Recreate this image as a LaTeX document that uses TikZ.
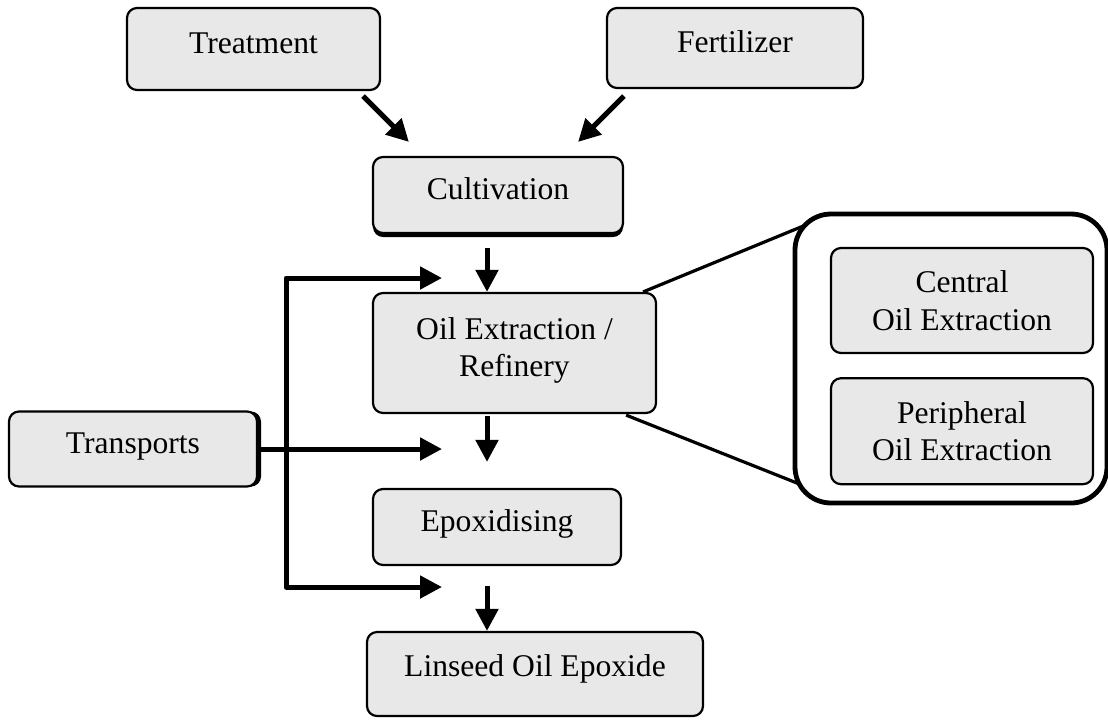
\documentclass[tikz,border=0pt]{standalone}
\usepackage{fontspec}
\setmainfont{Liberation Serif}
\usetikzlibrary{arrows.meta, positioning, calc, shadows}
\definecolor{lcaGrey}{HTML}{E8E8E8}
\tikzset{
  lcaBox/.style={rectangle, rounded corners=5pt, draw=black, line width=1.1pt,
    fill=lcaGrey, inner sep=0pt, align=center,
    font=\fontsize{15.8}{18.8}\selectfont},
  lcaStep/.style={lcaBox, text depth=6pt},
  lcaShadowDown/.style={drop shadow={shadow xshift=0pt, shadow yshift=-2pt,
    opacity=1, fill=black}},
  lcaShadowRight/.style={drop shadow={shadow xshift=2pt, shadow yshift=0pt,
    opacity=1, fill=black}},
  lcaArrow/.style={-{Triangle[length=11pt, width=11pt]}, line width=2.5pt, black},
  lcaZoom/.style={line width=1.6pt, black},
  lcaFrame/.style={rectangle, rounded corners=18pt, draw=black, line width=2.4pt,
    fill=white, inner sep=0pt}
}

\begin{document}
\begin{tikzpicture}[x=0.5pt, y=-0.5pt, line join=round]
  \useasboundingbox (0,0) rectangle (1108,720);

  % inputs
  \node[lcaStep, minimum width=126.5pt, minimum height=41pt] (treat) at (253.5,49) {Treatment};
  \node[lcaStep, minimum width=128pt, minimum height=40pt] (fert) at (735,48) {Fertilizer};

  % main chain
  \node[lcaStep, lcaShadowDown, minimum width=125pt, minimum height=38pt] (cult) at (498,195) {Cultivation};
  \node[lcaStep, minimum width=141.5pt, minimum height=60pt] (oil) at (514.5,353) {Oil Extraction /\\Refinery};
  \node[lcaStep, minimum width=124pt, minimum height=38pt] (epox) at (497,527) {Epoxidising};
  \node[lcaStep, text depth=8pt, minimum width=168pt, minimum height=42pt] (lins) at (535,674) {Linseed Oil Epoxide};
  \node[lcaStep, lcaShadowRight, minimum width=124pt, minimum height=37.5pt] (trans) at (133,449) {Transports};

  % detail of the extraction step
  \draw[lcaZoom] ([shift={(-14,0)}]oil.north east) -- ([shift={(18,8)}]795,214);
  \draw[lcaZoom] ([shift={(-31,1)}]oil.south east) -- ([shift={(12,-16)}]795,503);
  \node[lcaFrame, minimum width=156pt, minimum height=144.5pt] (frame) at (951,358.5) {};
  \node[lcaBox, minimum width=131pt, minimum height=52.5pt] (central) at (962,300.5) {Central\\Oil Extraction};
  \node[lcaBox, minimum width=131pt, minimum height=53pt, below=11.5pt of central] (periph) {Peripheral\\Oil Extraction};

  % arrows
  \coordinate (colX) at (487,0);
  \coordinate (hub) at (286,449);
  \coordinate (inTop) at (442,278);
  \coordinate (inMid) at (442,449);
  \coordinate (inBot) at (442,587);

  \draw[lcaArrow] ([shift={(-18,5)}]treat.south east) -- ([shift={(37,-14)}]cult.north west);
  \draw[lcaArrow] ([shift={(18,7)}]fert.south west) -- ([shift={(-46,-14)}]cult.north east);
  \draw[lcaArrow, shorten <=7pt] (cult.south -| colX) -- (oil.north -| colX);
  \draw[lcaArrow, shorten <=1pt, shorten >=13pt] (oil.south -| colX) -- (epox.north -| colX);
  \draw[lcaArrow, shorten <=10pt] (epox.south -| colX) -- (lins.north -| colX);

  \draw[lcaArrow] (trans.east) -- (inMid);
  \draw[lcaArrow] (hub) |- (inTop);
  \draw[lcaArrow] (hub) |- (inBot);
\end{tikzpicture}
\end{document}
